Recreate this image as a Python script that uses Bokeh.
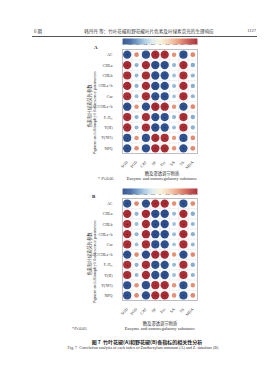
import numpy as np
from bokeh.plotting import figure
from bokeh.layouts import column
from bokeh.models import (FactorRange, Range1d, LinearColorMapper, FixedTicker,
                          ColumnDataSource, Div)
from bokeh.embed import file_html
from bokeh.resources import INLINE

# ---------------- data ----------------
rows = ["AC", "CHLa", "CHLb", "CHLa+b", "Car", "AC/CHLa+b",
        "Fᵥ/Fₘ", "Y(II)", "Y(NO)", "NPQ"]
cols = ["SOD", "POD", "CAT", "SP", "Pro", "SA", "SS", "MDA"]
cbar_ticks = [-1, -0.8, -0.6, -0.4, -0.2, 0, 0.2, 0.4, 0.6, 0.8, 1]
cbar_labels = ["-1", "-0.8", "-0.6", "-0.4", "-0.2", "0", "0.2", "0.4", "0.6", "0.8", "1"]

corr_a = [
    [-0.96, 0.55, -0.95, 0.97, 0.96, 0.52, -0.95, 0.56],
    [0.97, -0.50, 0.96, -0.98, -0.97, -0.48, 0.96, -0.52],
    [0.95, -0.47, 0.95, -0.96, -0.96, -0.45, 0.94, -0.49],
    [0.97, -0.49, 0.96, -0.98, -0.97, -0.47, 0.96, -0.51],
    [0.94, -0.46, 0.95, -0.96, -0.95, -0.44, 0.95, -0.48],
    [-0.97, 0.53, -0.96, 0.98, 0.97, 0.51, -0.96, 0.55],
    [0.95, -0.50, 0.94, -0.96, -0.95, -0.48, 0.95, -0.52],
    [0.96, -0.48, 0.95, -0.97, -0.96, -0.46, 0.95, -0.50],
    [-0.95, 0.52, -0.94, 0.96, 0.95, 0.50, -0.95, 0.54],
    [-0.96, 0.54, -0.95, 0.97, 0.96, 0.52, -0.96, 0.56],
]
corr_b = [
    [-0.95, 0.56, -0.96, 0.96, 0.97, 0.53, -0.95, 0.55],
    [0.96, -0.49, 0.97, -0.97, -0.98, -0.47, 0.96, -0.51],
    [0.95, -0.46, 0.96, -0.96, -0.97, -0.44, 0.95, -0.48],
    [0.96, -0.48, 0.97, -0.97, -0.98, -0.46, 0.96, -0.50],
    [0.95, -0.45, 0.95, -0.95, -0.96, -0.43, 0.94, -0.47],
    [-0.96, 0.54, -0.97, 0.97, 0.98, 0.52, -0.96, 0.54],
    [0.94, -0.49, 0.95, -0.95, -0.96, -0.47, 0.94, -0.51],
    [0.95, -0.47, 0.96, -0.96, -0.97, -0.45, 0.95, -0.49],
    [-0.94, 0.53, -0.95, 0.95, 0.96, 0.51, -0.94, 0.53],
    [-0.95, 0.55, -0.96, 0.96, 0.97, 0.53, -0.95, 0.55],
]

header_left = "6 期"
header_title = "韩丹丹 等：竹叶花椒和野花椒叶片色素及叶绿素荧光的生理响应"
header_page = "1127"
caption_cn = "图 7  竹叶花椒(A)和野花椒(B)各指标的相关性分析"
caption_en = "Fig. 7  Correlation analysis of each index of Zanthoxylum armatum (A) and Z. simulans (B)"
xtitle_cn = "酶及渗透调节物质"
xtitle_en = "Enzyme and osmoregulatory substance"
ytitle_cn = "色素和叶绿素荧光参数"
ytitle_en = "Pigment and chlorophyll fluorescence parameters"

# ---------------- styling ----------------
SERIF = "'Liberation Serif', 'Noto Sans CJK SC'"
CJK = "'Noto Sans CJK SC'"
TXT = "#333333"

anchor_vals = np.linspace(-1, 1, 11)
anchor_cols = ["#2a4b8a", "#3b64a3", "#6c99c8", "#a8cce3", "#dcebef", "#f8f4dc",
               "#f6d9bd", "#f2ae8e", "#e27c63", "#c44a45", "#a3252f"]


def _rgb(h):
    return [int(h[i:i + 2], 16) for i in (1, 3, 5)]


_rgbs = np.array([_rgb(c) for c in anchor_cols], dtype=float)
_t = np.linspace(-1, 1, 256)
palette = ["#%02x%02x%02x" % tuple(int(round(np.interp(t, anchor_vals, _rgbs[:, k]))) for k in range(3))
           for t in _t]
mapper = LinearColorMapper(palette=palette, low=-1, high=1)

W, H = 279, 380
LEFT, RIGHT = 122, 82


def colorbar_fig(height, top, bar_h):
    p = figure(width=W, height=height, x_range=Range1d(-1, 1), y_range=Range1d(0, 1),
               output_backend="svg", toolbar_location=None, tools="",
               min_border_left=LEFT, min_border_right=RIGHT,
               min_border_top=top, min_border_bottom=height - top - bar_h)
    edges = np.linspace(-1, 1, 101)
    steps = ColumnDataSource(dict(left=edges[:-1], right=edges[1:],
                                  mid=(edges[:-1] + edges[1:]) / 2))
    p.quad(left="left", right="right", bottom=0, top=1, source=steps,
           fill_color={"field": "mid", "transform": mapper},
           line_color={"field": "mid", "transform": mapper}, line_width=0.3)
    p.grid.visible = False
    p.outline_line_color = None
    p.yaxis.visible = False
    ax = p.xaxis[0]
    ax.ticker = FixedTicker(ticks=cbar_ticks)
    ax.major_label_overrides = {t: s for t, s in zip(cbar_ticks, cbar_labels)}
    ax.axis_line_color = None
    ax.major_tick_line_color = None
    ax.minor_tick_line_color = None
    ax.major_tick_out = 0
    ax.major_tick_in = 0
    ax.minor_tick_out = 0
    ax.minor_tick_in = 0
    ax.major_label_standoff = 0
    ax.major_label_text_font = SERIF
    ax.major_label_text_font_size = "2.8px"
    ax.major_label_text_color = TXT
    return p


def heat(corr, height, bottom):
    p = figure(width=W, height=height, x_range=FactorRange(*cols),
               y_range=FactorRange(*rows[::-1]), output_backend="svg",
               toolbar_location=None, tools="", min_border_left=LEFT,
               min_border_right=RIGHT, min_border_top=0, min_border_bottom=bottom)
    xs, ys, rs = [], [], []
    for i, rname in enumerate(rows):
        for j, cname in enumerate(cols):
            xs.append(cname)
            ys.append(rname)
            rs.append(corr[i][j])
    src = ColumnDataSource(dict(x=xs, y=ys, r=rs,
                                size=[8.6 * abs(r) for r in rs],
                                star=["*" if abs(r) >= 0.8 else "" for r in rs]))
    p.rect("x", "y", 1, 1, source=src, fill_color=None, line_color="#ececec", line_width=0.5)
    p.scatter("x", "y", size="size", source=src,
              fill_color={"field": "r", "transform": mapper}, line_color=None)
    p.text("x", "y", text="star", source=src, text_font_size="4px",
           text_align="center", text_baseline="middle", text_color="#1a1a1a",
           y_offset=1.2)
    p.grid.visible = False
    p.outline_line_color = "#9a9a9a"
    p.outline_line_width = 0.8
    for ax in (p.xaxis[0], p.yaxis[0]):
        ax.axis_line_color = None
        ax.major_tick_line_color = None
        ax.minor_tick_line_color = None
        ax.major_label_text_font = SERIF
        ax.major_label_text_font_size = "4px"
        ax.major_label_text_color = TXT
        ax.major_label_standoff = 4
    p.xaxis.major_label_orientation = np.pi / 4
    p.xaxis.major_label_standoff = 2
    return p


# ---------- stacked panels (page y: 0-49 | 49-183 | 183-198 | 198-380) ----------
cbA = colorbar_fig(49, 38, 6)
figA = heat(corr_a, 134, 30)
cbB = colorbar_fig(15, 5, 6)
figB = heat(corr_b, 182, 80)

# ---------- free page texts ----------
spans = []


def tx(x, y, text, size, font=SERIF, align="left", weight="normal", color=TXT, rot=False):
    if rot:
        pos = f"left:{x}px;transform:translate(-50%,-50%) rotate(-90deg);"
    elif align == "center":
        pos = f"left:{x}px;transform:translate(-50%,-50%);"
    elif align == "right":
        pos = f"right:{W - x}px;transform:translateY(-50%);"
    else:
        pos = f"left:{x}px;transform:translateY(-50%);"
    spans.append(f'<span style="position:absolute;top:{y}px;{pos}white-space:pre;'
                 f'font-family:{font};font-size:{size};font-weight:{weight};'
                 f'color:{color};line-height:1;">{text}</span>')


# running head
tx(29, 26, header_left, "4.5px", CJK)
tx(144, 26, header_title, "4.6px", CJK, "center")
tx(251, 26, header_page, "4.5px", "'Liberation Serif'", "right")
spans.append('<div style="position:absolute;left:27px;top:31px;width:225px;'
             'border-top:0.6px solid #555;"></div>')

# panel A / B decorations
for tag, tag_x, tag_y, ycn, yen, xc, xt_y, note, note_x in (
        ("A", 89, 42, 101, 108, 157, 168, "* <i>P</i>≤0.05", 93),
        ("B", 87, 191, 249, 257, 155, 318, "*<i>P</i>≤0.05", 67)):
    tx(tag_x, tag_y, tag, "5px", "'Liberation Serif'", "left", "bold", "#222")
    tx(84, ycn, ytitle_cn, "4.3px", CJK, rot=True)
    tx(90, yen, ytitle_en, "4.2px", "'Liberation Serif'", rot=True)
    tx(xc, xt_y, xtitle_cn, "4.3px", CJK, "center")
    tx(xc, xt_y + 6, xtitle_en, "4.5px", "'Liberation Serif'", "center")
    tx(note_x, xt_y + 6, note, "4.3px", "'Liberation Serif'")

# figure caption
tx(142, 336, caption_cn, "5px", CJK, "center", "bold", "#222")
tx(138, 343, caption_en, "4.1px", "'Liberation Serif'", "center")

overlay = Div(text='<div style="position:relative;width:279px;height:380px;">' + "".join(spans) + "</div>",
              width=W, height=H,
              styles={"position": "absolute", "left": "0px", "top": "0px",
                      "pointer-events": "none", "z-index": "5"})

page = column(cbA, figA, cbB, figB, overlay, spacing=0)
open("out.html", "w").write(file_html(page, INLINE))
